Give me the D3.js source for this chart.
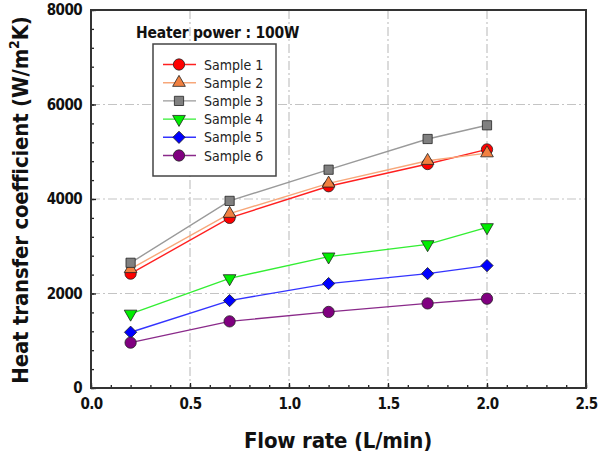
<!DOCTYPE html>
<html>
<head>
<meta charset="utf-8">
<script src="https://cdn.jsdelivr.net/npm/d3@7"></script>
<style>
  body { margin: 0; background: #fff; }
  text { font-family: "DejaVu Sans Condensed", "DejaVu Sans", sans-serif; font-stretch: condensed; }
</style>
</head>
<body>
<div id="chart"></div>
<script>
// data
var flowRates = [0.2, 0.7, 1.2, 1.7, 2.0];
var sampleNames = ["Sample 1", "Sample 2", "Sample 3", "Sample 4", "Sample 5", "Sample 6"];
var sample1 = [2420, 3600, 4270, 4740, 5050];
var sample2 = [2520, 3690, 4330, 4810, 4970];
var sample3 = [2650, 3960, 4620, 5270, 5560];
var sample4 = [1570, 2320, 2780, 3040, 3400];
var sample5 = [1180, 1850, 2210, 2420, 2590];
var sample6 = [960, 1410, 1610, 1790, 1890];
var xTicks = [0, 0.5, 1.0, 1.5, 2.0, 2.5];
var yTicks = [0, 2000, 4000, 6000, 8000];

var seriesValues = [sample1, sample2, sample3, sample4, sample5, sample6];
var lineColors = ["#ff2020", "#f7a77a", "#9a9a9a", "#33ee33", "#3333ff", "#8a2a8a"];
var markerColors = ["#ff0000", "#f08040", "#808080", "#00ee00", "#0000ff", "#800080"];
var markerTypes = ["circle", "up", "square", "down", "diamond", "circle"];

var width = 601, height = 456;
var plotLeft = 91, plotRight = 586, plotTop = 10, plotBottom = 388;

var svg = d3.select("#chart").append("svg")
  .attr("width", width)
  .attr("height", height);

var x = d3.scaleLinear().domain([0, 2.5]).range([plotLeft, plotRight]);
var y = d3.scaleLinear().domain([0, 8000]).range([plotBottom, plotTop]);

//GRID LINES
var grid = svg.append("g").attr("class", "grid")
  .attr("stroke", "#c4c4c4").attr("stroke-width", 1.2)
  .attr("stroke-dasharray", "9,3,2,3");
grid.selectAll("line.gx")
  .data(xTicks.slice(1, -1))
  .enter().append("line")
  .attr("class", "gx")
  .attr("x1", function(d){ return x(d); })
  .attr("x2", function(d){ return x(d); })
  .attr("y1", plotTop).attr("y2", plotBottom);
grid.selectAll("line.gy")
  .data(yTicks.slice(1, -1))
  .enter().append("line")
  .attr("class", "gy")
  .attr("y1", function(d){ return y(d); })
  .attr("y2", function(d){ return y(d); })
  .attr("x1", plotLeft).attr("x2", plotRight);

//AXES (ticks pointing inward)
svg.append("g")
  .attr("transform", "translate(0," + plotBottom + ")")
  .call(d3.axisBottom(x).tickValues(d3.range(0, 2.51, 0.1)).tickSize(-3).tickFormat(""));
svg.append("g")
  .attr("transform", "translate(0," + plotBottom + ")")
  .call(d3.axisBottom(x).tickValues(xTicks).tickSize(-5).tickPadding(10).tickFormat(d3.format(".1f")));
svg.append("g")
  .attr("transform", "translate(" + plotLeft + ",0)")
  .call(d3.axisLeft(y).tickValues(d3.range(0, 8001, 400)).tickSize(-3).tickFormat(""));
svg.append("g")
  .attr("transform", "translate(" + plotLeft + ",0)")
  .call(d3.axisLeft(y).tickValues(yTicks).tickSize(-5).tickPadding(9).tickFormat(d3.format("d")));

svg.selectAll(".domain").remove();
svg.selectAll(".tick line").attr("stroke", "#222").attr("stroke-width", 1.3);
svg.selectAll(".tick text")
  .attr("fill", "#111")
  .style("font-family", "'DejaVu Sans Condensed', 'DejaVu Sans', sans-serif")
  .style("font-size", "15px")
  .style("font-weight", "bold")
  .style("letter-spacing", "-0.6px");

//FRAME
svg.append("rect")
  .attr("x", plotLeft).attr("y", plotTop)
  .attr("width", plotRight - plotLeft).attr("height", plotBottom - plotTop)
  .attr("fill", "none").attr("stroke", "#333").attr("stroke-width", 2);

//SYMBOLS
function markerPath(type) {
  if (type === "circle") return d3.symbol().type(d3.symbolCircle).size(100)();
  if (type === "up" || type === "down") return d3.symbol().type(d3.symbolTriangle).size(70)();
  if (type === "square") return d3.symbol().type(d3.symbolSquare).size(85)();
  return d3.symbol().type(d3.symbolSquare).size(75)();
}
function markerRotate(type) {
  if (type === "down") return " rotate(180)";
  if (type === "diamond") return " rotate(45)";
  return "";
}

//LINES
var line = d3.line()
  .x(function(d, i){ return x(flowRates[i]); })
  .y(function(d){ return y(d); });

seriesValues.forEach(function(vals, s) {
  svg.append("path")
    .datum(vals)
    .attr("d", line)
    .attr("fill", "none")
    .attr("stroke", lineColors[s])
    .attr("stroke-width", 1.4);
});
seriesValues.forEach(function(vals, s) {
  svg.append("g").selectAll("path")
    .data(vals)
    .enter().append("path")
    .attr("d", markerPath(markerTypes[s]))
    .attr("transform", function(d, i){
      return "translate(" + x(flowRates[i]) + "," + y(d) + ")" + markerRotate(markerTypes[s]);
    })
    .attr("fill", markerColors[s])
    .attr("stroke", "#222")
    .attr("stroke-width", 0.8);
});

//TITLE
svg.append("text")
  .attr("x", 136).attr("y", 38)
  .style("font-size", "15.5px")
  .style("font-weight", "bold")
  .style("letter-spacing", "-0.2px")
  .attr("fill", "#111")
  .text("Heater power : 100W");

//LEGEND
var legend = svg.append("g").attr("id", "legend");
legend.append("rect")
  .attr("x", 153).attr("y", 44)
  .attr("width", 123).attr("height", 132)
  .attr("fill", "#fff").attr("stroke", "#444").attr("stroke-width", 1.5);
var rowY = d3.scaleLinear().domain([0, 5]).range([64.5, 155.5]);
sampleNames.forEach(function(name, s) {
  var g = legend.append("g").attr("transform", "translate(0," + rowY(s) + ")");
  g.append("line")
    .attr("x1", 163).attr("x2", 196)
    .attr("stroke", lineColors[s]).attr("stroke-width", 1.4);
  g.append("path")
    .attr("d", markerPath(markerTypes[s]))
    .attr("transform", "translate(179,0)" + markerRotate(markerTypes[s]))
    .attr("fill", markerColors[s]).attr("stroke", "#222").attr("stroke-width", 0.8);
  g.append("text")
    .attr("x", 204).attr("y", 5)
    .style("font-size", "14px")
    .style("letter-spacing", "0px")
    .attr("fill", "#222")
    .text(name);
});

//AXIS TITLES
svg.append("text")
  .attr("x", 338).attr("y", 448)
  .attr("text-anchor", "middle")
  .style("font-size", "22px")
  .style("font-weight", "bold")
  .style("letter-spacing", "-0.2px")
  .attr("fill", "#111")
  .text("Flow rate (L/min)");

var yTitle = svg.append("text")
  .attr("transform", "translate(28,200) rotate(-90)")
  .attr("text-anchor", "middle")
  .style("font-size", "22px")
  .style("font-weight", "bold")
  .style("letter-spacing", "-0.2px")
  .attr("fill", "#111");
yTitle.append("tspan").text("Heat transfer coefficient (W/m");
yTitle.append("tspan").attr("dy", -9).style("font-size", "14px").text("2");
yTitle.append("tspan").attr("dy", 9).text("K)");
</script>
</body>
</html>
